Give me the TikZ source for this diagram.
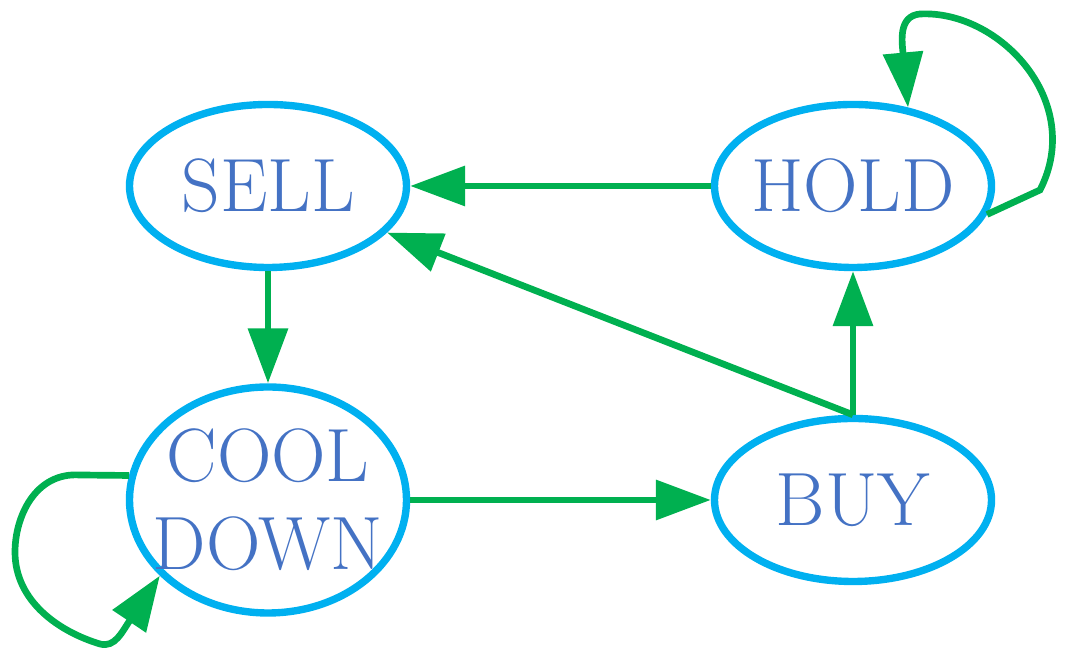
\documentclass[tikz,border=0pt]{standalone}
\usetikzlibrary{shapes.geometric, arrows.meta, positioning}

\definecolor{stateline}{HTML}{00B0F0}
\definecolor{statetext}{HTML}{4472C4}
\definecolor{transgreen}{HTML}{00B050}

\begin{document}
\begin{tikzpicture}[
  state/.style={ellipse, draw=stateline, line width=2.1pt, text=statetext,
    minimum width=2.77cm, minimum height=1.63cm, inner sep=0pt,
    inner xsep=-0.3cm, align=center, font=\fontsize{21.5}{25}\selectfont},
  trans/.style={draw=transgreen, line width=1.9pt,
    -{Triangle[length=5.5mm,width=3.9mm]}}] % sizes

  \useasboundingbox (0,0) rectangle (10.77,6.62);

  \node[state] (sell) at (2.68,4.76) {SELL};
  \node[state] (hold) at (8.53,4.76) {HOLD};
  \node[state, minimum height=2.26cm] (cool) at (2.68,1.62) {COOL\\DOWN};
  \node[state] (buy) at (8.53,1.62) {BUY};

  \draw[trans] (hold.west) -- (sell.east);
  \draw[trans] (buy.north) -- (sell);
  \draw[trans] (buy.north) -- (hold.south);
  \draw[trans] (sell.south) -- (cool.north);
  \draw[trans] (cool.east) -- (buy.west);

  % self loops
  \draw[trans] (hold.-12) -- (10.4,4.72)
    .. controls (10.85,5.6) and (10.0,6.52) .. (9.2,6.48)
    .. controls (8.98,6.46) and (9.02,6.2) .. (hold.55);
  \draw[trans] (cool.170) -- (0.8,1.87)
    .. controls (0.35,1.9) and (0.15,1.45) .. (0.15,1.1)
    .. controls (0.15,0.6) and (0.6,0.3) .. (1.0,0.18)
    .. controls (1.15,0.14) and (1.22,0.3) .. (cool.215);
\end{tikzpicture}
\end{document}
